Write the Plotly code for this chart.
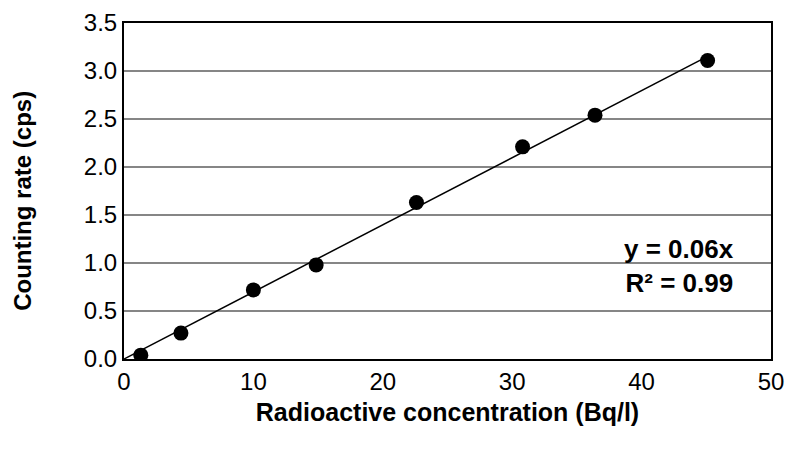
import numpy as np
import plotly.graph_objects as go

concentration = [1.3, 4.4, 10.0, 14.85, 22.6, 30.8, 36.4, 45.1]
counting_rate = [0.04, 0.27, 0.72, 0.98, 1.63, 2.21, 2.54, 3.11]

x_ticks = [0, 10, 20, 30, 40, 50]
y_ticks = [0.0, 0.5, 1.0, 1.5, 2.0, 2.5, 3.0, 3.5]

xa = np.array(concentration)
ya = np.array(counting_rate)
slope = float((xa * ya).sum() / (xa * xa).sum())
trend_x = [0, max(concentration)]
trend_y = [0, slope * max(concentration)]

FONT = "Liberation Sans, Arial, sans-serif"

fig = go.Figure()
fig.add_trace(go.Scatter(x=trend_x, y=trend_y, mode="lines",
                         line=dict(color="black", width=1.5), hoverinfo="skip"))
fig.add_trace(go.Scatter(x=concentration, y=counting_rate, mode="markers",
                         marker=dict(color="black", size=15)))

fig.add_annotation(x=0.946, y=0.277, xref="paper", yref="paper",
                   text="<b>y = 0.06x</b><br><b>R² = 0.99</b>",
                   showarrow=False, xanchor="right", yanchor="middle", align="right",
                   font=dict(family=FONT, size=26, color="black"))

# y-axis title placed as rotated annotation for exact vertical placement
fig.add_annotation(x=-0.158, y=0.47, xref="paper", yref="paper",
                   text="<b>Counting rate (cps)</b>", textangle=-90,
                   showarrow=False, xanchor="center", yanchor="middle",
                   font=dict(family=FONT, size=24, color="black"))

fig.update_layout(
    width=786, height=449,
    margin=dict(l=124, r=15, t=23, b=90, autoexpand=False),
    paper_bgcolor="white", plot_bgcolor="white",
    showlegend=False,
    font=dict(family=FONT, size=22, color="black"),
    xaxis=dict(range=[0, 50], tickvals=x_ticks, ticktext=[str(v) for v in x_ticks],
               tickfont=dict(family=FONT, size=24), automargin=False,
               showgrid=False, zeroline=False, showline=True, linecolor="black",
               linewidth=2, mirror=True, ticks="", ticklen=0,
               title=dict(text="<b>Radioactive concentration (Bq/l)</b>",
                          font=dict(family=FONT, size=25), standoff=10)),
    yaxis=dict(range=[0, 3.5], tickvals=y_ticks, ticktext=[f"{v:.1f}" for v in y_ticks],
               tickfont=dict(family=FONT, size=24), automargin=False,
               showgrid=True, gridcolor="#868686", gridwidth=1.5, zeroline=False,
               showline=True, linecolor="black", linewidth=2, mirror=True,
               ticks="", ticklen=0),
)

fig.write_html("out.html")
